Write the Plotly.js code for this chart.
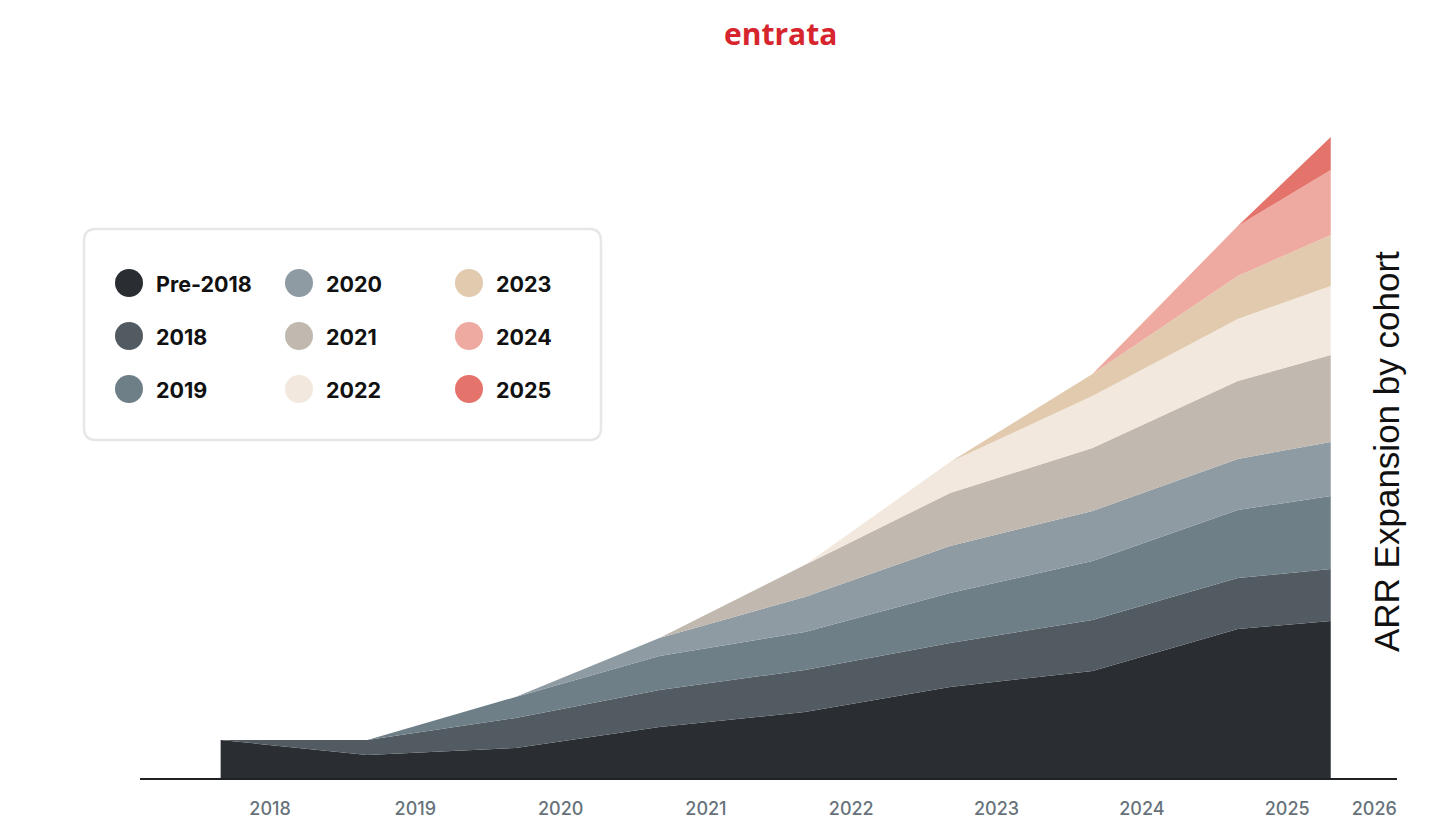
<!DOCTYPE html>
<html>
<head>
<meta charset="utf-8">
<script src="https://cdn.plot.ly/plotly-3.0.1.min.js"></script>
<style>
  html, body { margin: 0; padding: 0; background: #ffffff; }
  #chart { width: 1456px; height: 831px; }
</style>
</head>
<body>
<div id="chart"></div>
<script>
// ---- Data ----
const xPoints = [2017.66, 2018.67, 2019.69, 2020.68, 2021.68, 2022.68, 2023.66, 2024.66, 2025.30];

const cohortNames = ['Pre-2018', '2018', '2019', '2020', '2021', '2022', '2023', '2024', '2025'];
const cohortColors = ['#2a2e32', '#535b62', '#6e7f88', '#8e9ba3', '#c1b8b0', '#f2e8de', '#e1caae', '#eeaaa0', '#e4736b'];

const pre2018 = [38, 23, 30, 51, 66, 91, 107, 149, 157];
const c2018   = [0, 15, 30, 37, 42, 44, 51, 51, 52];
const c2019   = [0, 0, 21, 34, 38, 50, 59, 68, 73];
const c2020   = [0, 0, 0, 18, 35, 47, 50, 51, 54];
const c2021   = [0, 0, 0, 0, 32, 53, 63, 78, 87];
const c2022   = [0, 0, 0, 0, 0, 31, 52, 62, 69];
const c2023   = [0, 0, 0, 0, 0, 0, 22, 43, 51];
const c2024   = [0, 0, 0, 0, 0, 0, 0, 50, 65];
const c2025   = [0, 0, 0, 0, 0, 0, 0, 0, 33];

const seriesValues = [pre2018, c2018, c2019, c2020, c2021, c2022, c2023, c2024, c2025];

const tickVals = [2018, 2019, 2020, 2021, 2022, 2023, 2024, 2025, 2025.6];
const tickText = ['2018', '2019', '2020', '2021', '2022', '2023', '2024', '2025', '2026'];

const titleText = 'ARR Expansion by cohort';
const logoText = 'entrata';

// ---- Layout geometry ----
const W = 1456, H = 831;
const M = { l: 140, r: 59, t: 78, b: 53 };
const plotW = W - M.l - M.r;
const plotH = H - M.t - M.b;
const px2x = p => (p - M.l) / plotW;            // pixel -> paper x
const py2y = p => (H - M.b - p) / plotH;        // pixel -> paper y

// ---- Traces ----
const traces = seriesValues.map((vals, i) => ({
  type: 'scatter',
  mode: 'lines',
  x: xPoints,
  y: vals,
  name: cohortNames[i],
  stackgroup: 'one',
  line: { width: 0, color: cohortColors[i] },
  fillcolor: cohortColors[i],
  hoverinfo: 'skip',
  showlegend: false
}));

// ---- Custom legend (column-major, 3x3) ----
const shapes = [];
const annotations = [];

// rounded box
(function () {
  const x0 = 84, y0 = 229, x1 = 601, y1 = 440, r = 12;
  const X = px2x, Y = py2y;
  const path =
    `M ${X(x0 + r)} ${Y(y0)} L ${X(x1 - r)} ${Y(y0)} Q ${X(x1)} ${Y(y0)} ${X(x1)} ${Y(y0 + r)} ` +
    `L ${X(x1)} ${Y(y1 - r)} Q ${X(x1)} ${Y(y1)} ${X(x1 - r)} ${Y(y1)} ` +
    `L ${X(x0 + r)} ${Y(y1)} Q ${X(x0)} ${Y(y1)} ${X(x0)} ${Y(y1 - r)} ` +
    `L ${X(x0)} ${Y(y0 + r)} Q ${X(x0)} ${Y(y0)} ${X(x0 + r)} ${Y(y0)} Z`;
  shapes.push({
    type: 'path', xref: 'paper', yref: 'paper', path: path,
    line: { color: '#e7e7e7', width: 2.5 }, fillcolor: 'rgba(255,255,255,1)', layer: 'above'
  });
})();

const colCircleX = [129, 299, 469];
const colTextX = [154, 324, 494];
const rowY = [283, 336, 389];
const circR = 14;
cohortNames.forEach((name, i) => {
  const col = Math.floor(i / 3), row = i % 3;
  const cx = colCircleX[col], cy = rowY[row];
  shapes.push({
    type: 'circle', xref: 'paper', yref: 'paper', layer: 'above',
    x0: px2x(cx - circR), x1: px2x(cx + circR),
    y0: py2y(cy + circR), y1: py2y(cy - circR),
    fillcolor: cohortColors[i], line: { width: 0 }
  });
  annotations.push({
    xref: 'paper', yref: 'paper', x: px2x(colTextX[col]), y: py2y(cy + 1),
    xanchor: 'left', yanchor: 'middle', showarrow: false,
    text: name,
    font: { family: 'Inter, "DejaVu Sans", sans-serif', size: 21.5, weight: 700, color: '#111111' }
  });
});

// vertical title on the right
annotations.push({
  xref: 'paper', yref: 'paper', x: px2x(1386), y: py2y(452),
  xanchor: 'center', yanchor: 'middle', showarrow: false, textangle: -90,
  text: titleText,
  font: { family: '"Liberation Sans", Arial, sans-serif', size: 35, color: '#111111' }
});

// logo text
annotations.push({
  xref: 'paper', yref: 'paper', x: px2x(780), y: py2y(33),
  xanchor: 'center', yanchor: 'middle', showarrow: false,
  text: logoText,
  font: { family: '"Open Sans", sans-serif', size: 30, weight: 700, color: '#d6252d' }
});

const layout = {
  width: W, height: H,
  margin: M,
  paper_bgcolor: '#ffffff',
  plot_bgcolor: '#ffffff',
  showlegend: false,
  xaxis: {
    range: [2017.105, 2025.756],
    tickmode: 'array', tickvals: tickVals, ticktext: tickText,
    showgrid: false, zeroline: false,
    showline: true, linecolor: '#1f2225', linewidth: 2,
    ticks: '', ticklabelstandoff: 13,
    tickfont: { family: 'Inter, sans-serif', size: 18, weight: 500, color: '#67727b' },
    fixedrange: true
  },
  yaxis: {
    range: [0, 700],
    showgrid: false, zeroline: false, showline: false,
    showticklabels: false, ticks: '',
    fixedrange: true
  },
  shapes: shapes,
  annotations: annotations
};

Plotly.newPlot('chart', traces, layout, { staticPlot: true, displayModeBar: false });
</script>
</body>
</html>
